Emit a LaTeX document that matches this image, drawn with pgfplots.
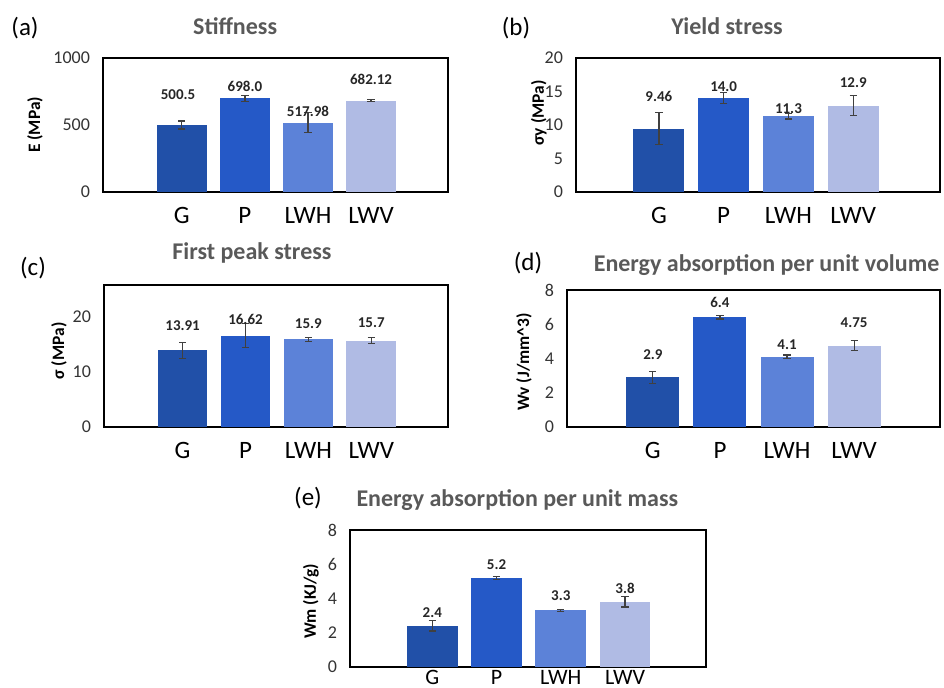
\documentclass[border=0pt]{standalone}
\usepackage{pgfplots}
\pgfplotsset{compat=1.18}
\usepackage{fontspec}
\setmainfont{Carlito}

\definecolor{cG}{HTML}{2150A8}
\definecolor{cP}{HTML}{2559C7}
\definecolor{cLWH}{HTML}{5C82D8}
\definecolor{cLWV}{HTML}{B0BBE4}
\definecolor{ttl}{HTML}{595959}

\tikzset{
  vlab/.style={font=\bfseries\fontsize{7.5}{8}\selectfont, text=black!85},
  plab/.style={font=\fontsize{12.5}{14}\selectfont},
}

\pgfplotsset{
  panel/.style={
    scale only axis, anchor=south west, ybar, bar width=0.79,
    ymin=0, xtick={0,1,2,3}, xticklabels={G,P,LWH,LWV},
    major tick length=0pt, axis line style={line width=0.7pt},
    /pgf/number format/assume math mode=true,
    /pgf/number format/1000 sep={},
    xticklabel style={font=\fontsize{12.5}{13}\selectfont, yshift=-4pt},
    yticklabel style={font=\fontsize{9}{10}\selectfont, text=black!80, xshift=-3pt},
    ylabel style={font=\bfseries\fontsize{8.7}{9}\selectfont, anchor=center},
    title style={font=\bfseries\fontsize{12}{13}\selectfont, text=ttl, anchor=center, yshift=-6pt},
    clip=false,
  },
  bars/.style={fill=#1, draw=none, bar shift=0pt,
    error bars/.cd, y dir=both, y explicit,
    error bar style={draw=black!75, line width=0.6pt},
    error mark options={rotate=90, mark size=1.8pt, draw=black!75, line width=0.6pt}},
}

\begin{document}
\begin{tikzpicture}
\path[use as bounding box] (0,0) rectangle (472pt,-344pt);

% panel letters
\node[plab] at (12.5pt,-14pt) {(a)};
\node[plab] at (258pt,-14pt) {(b)};
\node[plab] at (16.5pt,-134pt) {(c)};
\node[plab] at (264pt,-131.5pt) {(d)};
\node[plab] at (154pt,-249pt) {(e)};

% (a) stiffness
\begin{axis}[panel, at={(51.5pt,-96pt)}, width=172.5pt, height=67pt,
  xmin=-1.25, xmax=4.22, ymax=1000, ytick={0,500,1000},
  ylabel={E (MPa)}, ylabel style={at={(axis description cs:-0.197,0.5)}},
  title={Stiffness}, title style={at={(axis description cs:0.383,1.24)}}]
\addplot[bars=cG] coordinates {(0,500.5) +- (0,30)};
\addplot[bars=cP] coordinates {(1,698.0) +- (0,20)};
\addplot[bars=cLWH] coordinates {(2,517.98) +- (0,75)};
\addplot[bars=cLWV] coordinates {(3,682.12) +- (0,8)};
\node[vlab] at (axis cs:-0.06,724) {500.5};
\node[vlab] at (axis cs:1,791) {698.0};
\node[vlab] at (axis cs:2,604) {517.98};
\node[vlab] at (axis cs:3,843) {682.12};
\end{axis}

% (b) yield stress
\begin{axis}[panel, at={(288pt,-96pt)}, width=182pt, height=67pt,
  xmin=-1.28, xmax=4.34, ymax=20, ytick={0,5,10,15,20},
  ylabel={σy (MPa)}, ylabel style={at={(axis description cs:-0.102,0.59)}},
  title={Yield stress}, title style={at={(axis description cs:0.415,1.24)}}]
\addplot[bars=cG] coordinates {(0,9.46) +- (0,2.4)};
\addplot[bars=cP] coordinates {(1,14.0) +- (0,0.8)};
\addplot[bars=cLWH] coordinates {(2,11.3) +- (0,0.4)};
\addplot[bars=cLWV] coordinates {(3,12.9) +- (0,1.5)};
\node[vlab] at (axis cs:0,14.2) {9.46};
\node[vlab] at (axis cs:1,15.8) {14.0};
\node[vlab] at (axis cs:2,12.5) {11.3};
\node[vlab] at (axis cs:3,16.3) {12.9};
\end{axis}

% (c) first peak stress
\begin{axis}[panel, at={(52pt,-213.5pt)}, width=172pt, height=71pt,
  xmin=-1.25, xmax=4.22, ymax=25.8, ytick={0,10,20},
  ylabel={σ (MPa)}, ylabel style={at={(axis description cs:-0.131,0.535)}},
  title={First peak stress}, title style={at={(axis description cs:0.43,1.225)}}]
\addplot[bars=cG] coordinates {(0,13.91) +- (0,1.5)};
\addplot[bars=cP] coordinates {(1,16.62) +- (0,2.2)};
\addplot[bars=cLWH] coordinates {(2,15.9) +- (0,0.3)};
\addplot[bars=cLWV] coordinates {(3,15.7) +- (0,0.5)};
\node[vlab] at (axis cs:0,18.4) {13.91};
\node[vlab] at (axis cs:1,19.5) {16.62};
\node[vlab] at (axis cs:2,18.7) {15.9};
\node[vlab] at (axis cs:3,18.9) {15.7};
\end{axis}

% (d) energy absorption per unit volume
\begin{axis}[panel, at={(283.5pt,-213.5pt)}, width=186.5pt, height=68.5pt,
  xmin=-1.28, xmax=4.28, ymax=8, ytick={0,2,4,6,8},
  ylabel={Wv (J/mm\textasciicircum 3)}, ylabel style={at={(axis description cs:-0.115,0.475)}},
  title={Energy absorption per unit volume}, title style={at={(axis description cs:0.535,1.18)}}]
\addplot[bars=cG] coordinates {(0,2.9) +- (0,0.35)};
\addplot[bars=cP] coordinates {(1,6.4) +- (0,0.1)};
\addplot[bars=cLWH] coordinates {(2,4.1) +- (0,0.1)};
\addplot[bars=cLWV] coordinates {(3,4.75) +- (0,0.3)};
\node[vlab] at (axis cs:0,4.2) {2.9};
\node[vlab] at (axis cs:1,7.3) {6.4};
\node[vlab] at (axis cs:2,4.8) {4.1};
\node[vlab] at (axis cs:3,6.1) {4.75};
\end{axis}

% (e) energy absorption per unit mass
\begin{axis}[panel, at={(175pt,-333.5pt)}, width=178pt, height=68.5pt,
  xmin=-1.28, xmax=4.26, ymax=8, ytick={0,2,4,6,8},
  xticklabel style={font=\fontsize{11}{12}\selectfont, inner sep=0pt, yshift=2.5pt},
  ylabel={Wm (KJ/g)}, ylabel style={at={(axis description cs:-0.11,0.48)}},
  title={Energy absorption per unit mass}, title style={at={(axis description cs:0.47,1.22)}}]
\addplot[bars=cG] coordinates {(0,2.4) +- (0,0.3)};
\addplot[bars=cP] coordinates {(1,5.2) +- (0,0.1)};
\addplot[bars=cLWH] coordinates {(2,3.3) +- (0,0.05)};
\addplot[bars=cLWV] coordinates {(3,3.8) +- (0,0.3)};
\node[vlab] at (axis cs:0,3.15) {2.4};
\node[vlab] at (axis cs:1,6.0) {5.2};
\node[vlab] at (axis cs:2,4.15) {3.3};
\node[vlab] at (axis cs:3,4.6) {3.8};
\end{axis}
\end{tikzpicture}
\end{document}
